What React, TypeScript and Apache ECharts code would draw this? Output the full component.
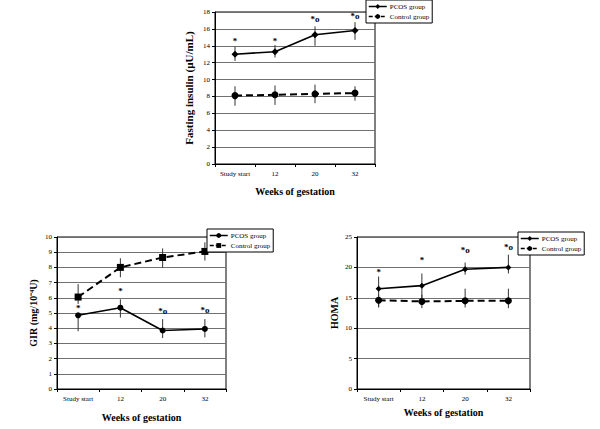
import React, { useEffect, useRef } from 'react';
import * as echarts from 'echarts';

const categories = ['Study start', '12', '20', '32'];

// Fasting insulin (µU/mL)
const insulinPcos = [13.0, 13.3, 15.3, 15.8];
const insulinPcosLow = [12.2, 12.6, 14.0, 14.7];
const insulinPcosHigh = [13.9, 14.1, 16.3, 16.8];
const insulinCtrl = [8.1, 8.2, 8.3, 8.4];
const insulinCtrlLow = [6.9, 7.0, 7.2, 7.5];
const insulinCtrlHigh = [9.2, 9.3, 9.4, 9.2];
const insulinSigY = [14.6, 14.6, 17.2, 17.5];

// GIR (mg/10^-4 U)
const girPcos = [4.85, 5.35, 3.85, 3.95];
const girPcosLow = [3.8, 4.7, 3.35, 3.4];
const girPcosHigh = [5.0, 5.9, 4.6, 4.6];
const girCtrl = [6.05, 8.0, 8.65, 9.05];
const girCtrlLow = [5.6, 7.35, 8.0, 8.45];
const girCtrlHigh = [6.9, 8.6, 9.25, 9.65];
const girSigY = [5.35, 6.45, 5.15, 5.2];

// HOMA
const homaPcos = [16.5, 17.0, 19.7, 20.0];
const homaPcosLow = [13.5, 15.0, 18.8, 19.0];
const homaPcosHigh = [18.5, 19.0, 20.8, 22.1];
const homaCtrl = [14.6, 14.4, 14.5, 14.5];
const homaCtrlLow = [13.4, 13.3, 13.4, 13.3];
const homaCtrlHigh = [15.5, 15.5, 16.5, 16.5];
const homaSigY = [19.3, 21.2, 22.8, 23.4];

const sigLabels = ['*', '*', '*o', '*o'];

const legendNames: Record<string, string> = {
  FI_PCOS: 'PCOS group',
  FI_CTRL: 'Control group',
  GIR_PCOS: 'PCOS group',
  GIR_CTRL: 'Control group',
  HOMA_PCOS: 'PCOS group',
  HOMA_CTRL: 'Control group',
};

const FONT = '"Liberation Serif", "Times New Roman", serif';

function errorSeries(gi: number, low: number[], high: number[]) {
  return {
    type: 'custom',
    name: 'err' + gi + low[0],
    xAxisIndex: gi,
    yAxisIndex: gi,
    z: 1,
    silent: true,
    data: low.map((l, i) => [i, l, high[i]]),
    encode: { x: 0, y: [1, 2] },
    renderItem: (_p: any, api: any) => {
      const a = api.coord([api.value(0), api.value(1)]);
      const b = api.coord([api.value(0), api.value(2)]);
      return {
        type: 'line',
        shape: { x1: a[0], y1: a[1], x2: b[0], y2: b[1] },
        style: { stroke: '#333', lineWidth: 1 },
      };
    },
  };
}

function sigSeries(gi: number, ys: number[]) {
  return {
    type: 'custom',
    name: 'sig' + gi,
    xAxisIndex: gi,
    yAxisIndex: gi,
    z: 5,
    silent: true,
    data: ys.map((v, i) => [i, v]),
    encode: { x: 0, y: 1 },
    renderItem: (p: any, api: any) => {
      const c = api.coord([api.value(0), api.value(1)]);
      return {
        type: 'text',
        x: c[0],
        y: c[1],
        style: {
          text: sigLabels[p.dataIndex],
          fill: '#000',
          fontSize: 9,
          fontWeight: 'bold',
          fontFamily: FONT,
          align: 'center',
          verticalAlign: 'middle',
        },
      };
    },
  };
}

function lineSeries(gi: number, name: string, data: number[], symbol: string, size: number, dashed: boolean) {
  return {
    type: 'line',
    name,
    xAxisIndex: gi,
    yAxisIndex: gi,
    data,
    z: 3,
    symbol,
    symbolSize: size,
    showSymbol: true,
    itemStyle: { color: '#000' },
    lineStyle: { color: '#000', width: dashed ? 2 : 1.6, type: dashed ? [7, 4] : 'solid' },
  };
}

function xAxis(gi: number, gap: number) {
  return {
    type: 'category',
    gridIndex: gi,
    data: categories,
    boundaryGap: true,
    name: 'Weeks of gestation',
    nameLocation: 'middle',
    nameGap: gap,
    nameTextStyle: { fontFamily: FONT, fontWeight: 'bold', fontSize: 10, color: '#000' },
    axisLine: { lineStyle: { color: '#000', width: 1 } },
    axisTick: { show: true, length: 3, lineStyle: { color: '#000' } },
    axisLabel: { fontFamily: FONT, fontSize: 7, color: '#000', margin: 6 },
  };
}

function yAxis(gi: number, max: number, interval: number, name: string, gap: number, nameSize: number) {
  return {
    type: 'value',
    gridIndex: gi,
    min: 0,
    max,
    interval,
    name,
    nameLocation: 'middle',
    nameGap: gap,
    nameTextStyle: { fontFamily: FONT, fontWeight: 'bold', fontSize: nameSize, color: '#000' },
    axisLine: { show: true, lineStyle: { color: '#000', width: 1 } },
    axisTick: { show: true, length: 3, lineStyle: { color: '#000' } },
    axisLabel: { fontFamily: FONT, fontSize: 7, color: '#000', margin: 5 },
    splitLine: { show: true, lineStyle: { color: '#707070', width: 1 } },
  };
}

function legend(left: number, top: number, names: string[]) {
  return {
    show: true,
    orient: 'vertical',
    left,
    top,
    data: [
      { name: names[0], lineStyle: { type: 'solid', width: 1.5 } },
      { name: names[1], lineStyle: { type: [4, 2], width: 1.5 } },
    ],
    formatter: (n: string) => legendNames[n] || n,
    backgroundColor: '#fff',
    borderColor: '#000',
    borderWidth: 1,
    borderRadius: 0,
    padding: [3, 3, 3, 2],
    itemGap: 3,
    itemWidth: 18,
    itemHeight: 6,
    itemStyle: { color: '#000' },
    textStyle: { fontFamily: FONT, fontSize: 7, color: '#000', padding: [0, 0, 0, -2] },
  };
}

export default function App() {
  const ref = useRef<HTMLDivElement>(null);
  useEffect(() => {
    if (!ref.current) return;
    const chart = echarts.init(ref.current, undefined, { renderer: 'svg' });
    const gridBase = { show: true, borderColor: '#000', borderWidth: 1, backgroundColor: 'transparent', containLabel: false };
    chart.setOption({
      animation: false,
      backgroundColor: '#fff',
      grid: [
        { ...gridBase, left: 215, right: 225, top: 12, bottom: 265 },
        { ...gridBase, left: 57, right: 374, top: 237, bottom: 40 },
        { ...gridBase, left: 357, right: 70, top: 237, bottom: 40 },
      ],
      xAxis: [xAxis(0, 22), xAxis(1, 23), xAxis(2, 18)],
      yAxis: [
        yAxis(0, 18, 2, 'Fasting insulin (µU/mL)', 21, 11),
        yAxis(1, 10, 1, 'GIR (mg/10⁻⁴U)', 19, 10),
        yAxis(2, 25, 5, 'HOMA', 18, 10),
      ],
      legend: [
        legend(366, 0, ['FI_PCOS', 'FI_CTRL']),
        legend(207, 229, ['GIR_PCOS', 'GIR_CTRL']),
        legend(518, 232, ['HOMA_PCOS', 'HOMA_CTRL']),
      ],
      series: [
        errorSeries(0, insulinPcosLow, insulinPcosHigh),
        errorSeries(0, insulinCtrlLow, insulinCtrlHigh),
        lineSeries(0, 'FI_PCOS', insulinPcos, 'diamond', 7, false),
        lineSeries(0, 'FI_CTRL', insulinCtrl, 'circle', 7, true),
        sigSeries(0, insulinSigY),

        errorSeries(1, girPcosLow, girPcosHigh),
        errorSeries(1, girCtrlLow, girCtrlHigh),
        lineSeries(1, 'GIR_PCOS', girPcos, 'circle', 6, false),
        lineSeries(1, 'GIR_CTRL', girCtrl, 'rect', 7, true),
        sigSeries(1, girSigY),

        errorSeries(2, homaPcosLow, homaPcosHigh),
        errorSeries(2, homaCtrlLow, homaCtrlHigh),
        lineSeries(2, 'HOMA_PCOS', homaPcos, 'diamond', 6, false),
        lineSeries(2, 'HOMA_CTRL', homaCtrl, 'circle', 7, true),
        sigSeries(2, homaSigY),
      ],
    });
    return () => chart.dispose();
  }, []);
  return <div ref={ref} style={{ position: 'absolute', left: 0, top: 0, width: 600, height: 429 }} />;
}
